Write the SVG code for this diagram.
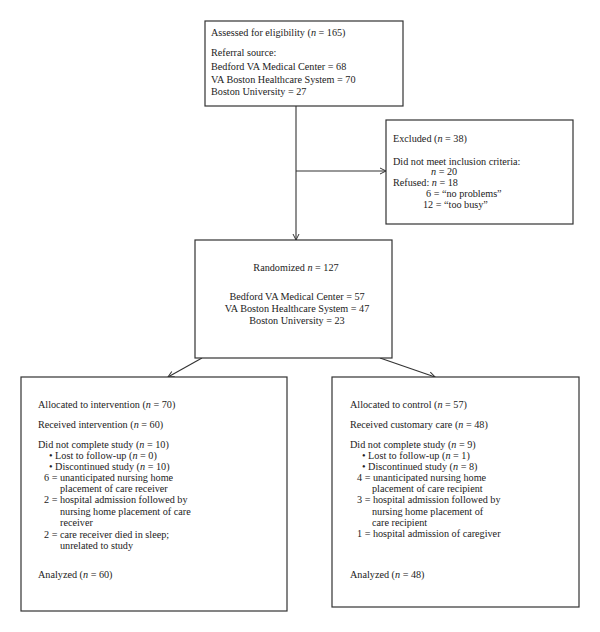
<svg xmlns="http://www.w3.org/2000/svg" width="600" height="632" viewBox="0 0 600 632">
<defs>
<style>
.box{fill:#fff;stroke:#333;stroke-width:1.2}
.t{font-family:"Liberation Serif","Times New Roman",serif;font-size:10.2px;fill:#222}
.c{text-anchor:middle}
.i{font-style:italic}
.ln{fill:none;stroke:#333;stroke-width:1.1}
</style>
<marker id="ah" markerWidth="8" markerHeight="8" refX="7" refY="4" orient="auto" markerUnits="userSpaceOnUse">
<path d="M1,1 L7,4 L1,7" fill="none" stroke="#333" stroke-width="1"/>
</marker>
</defs>
<rect width="600" height="632" fill="#fff"/>
<g id="connectors">
<path class="ln" d="M296,106 V240" marker-end="url(#ah)"/>
<path class="ln" d="M296,171 H386" marker-end="url(#ah)"/>
<path class="ln" d="M202,358 L168,377" marker-end="url(#ah)"/>
<path class="ln" d="M380,358 L435,377" marker-end="url(#ah)"/>
</g>
<g id="assessed">
<rect class="box" x="205" y="21" width="198" height="85"/>
<text class="t" x="211" y="35.5">Assessed for eligibility (<tspan class="i">n</tspan> = 165)</text>
<text class="t" x="211" y="55.5">Referral source:</text>
<text class="t" x="211" y="69.5">Bedford VA Medical Center = 68</text>
<text class="t" x="211" y="83">VA Boston Healthcare System = 70</text>
<text class="t" x="211" y="94.5">Boston University = 27</text>
</g>
<g id="excluded">
<rect class="box" x="386" y="120" width="187" height="104"/>
<text class="t" x="393" y="141.5">Excluded (<tspan class="i">n</tspan> = 38)</text>
<text class="t" x="393" y="165">Did not meet inclusion criteria:</text>
<text class="t" x="431" y="174.5"><tspan class="i">n</tspan> = 20</text>
<text class="t" x="393" y="185.5">Refused: <tspan class="i">n</tspan> = 18</text>
<text class="t" x="426" y="196.5">6 = “no problems”</text>
<text class="t" x="423" y="207.5">12 = “too busy”</text>
</g>
<g id="randomized">
<rect class="box" x="195" y="240" width="197" height="118"/>
<text class="t c" x="296" y="270.5">Randomized <tspan class="i">n</tspan> = 127</text>
<text class="t c" x="297" y="299.5">Bedford VA Medical Center = 57</text>
<text class="t c" x="297" y="311.5">VA Boston Healthcare System = 47</text>
<text class="t c" x="297" y="324">Boston University = 23</text>
</g>
<g id="intervention">
<rect class="box" x="21" y="377" width="266" height="234"/>
<text class="t" x="38" y="407.5">Allocated to intervention (<tspan class="i">n</tspan> = 70)</text>
<text class="t" x="38" y="427.5">Received intervention (<tspan class="i">n</tspan> = 60)</text>
<text class="t" x="38" y="447.5">Did not complete study (<tspan class="i">n</tspan> = 10)</text>
<text class="t" x="49" y="458.5">• Lost to follow-up (<tspan class="i">n</tspan> = 0)</text>
<text class="t" x="49" y="469.5">• Discontinued study (<tspan class="i">n</tspan> = 10)</text>
<text class="t" x="44" y="480.5">6 = unanticipated nursing home</text>
<text class="t" x="60" y="491.5">placement of care receiver</text>
<text class="t" x="44" y="503">2 = hospital admission followed by</text>
<text class="t" x="60" y="514.5">nursing home placement of care</text>
<text class="t" x="60" y="525.5">receiver</text>
<text class="t" x="44" y="537.5">2 = care receiver died in sleep;</text>
<text class="t" x="60" y="549">unrelated to study</text>
<text class="t" x="38" y="578">Analyzed (<tspan class="i">n</tspan> = 60)</text>
</g>
<g id="control">
<rect class="box" x="332" y="377" width="247" height="230"/>
<text class="t" x="350" y="407.5">Allocated to control (<tspan class="i">n</tspan> = 57)</text>
<text class="t" x="350" y="427.5">Received customary care (<tspan class="i">n</tspan> = 48)</text>
<text class="t" x="350" y="447.5">Did not complete study (<tspan class="i">n</tspan> = 9)</text>
<text class="t" x="362" y="458.5">• Lost to follow-up (<tspan class="i">n</tspan> = 1)</text>
<text class="t" x="362" y="469.5">• Discontinued study (<tspan class="i">n</tspan> = 8)</text>
<text class="t" x="357" y="480.5">4 = unanticipated nursing home</text>
<text class="t" x="372" y="491.5">placement of care recipient</text>
<text class="t" x="357" y="503">3 = hospital admission followed by</text>
<text class="t" x="372" y="514.5">nursing home placement of</text>
<text class="t" x="372" y="525.5">care recipient</text>
<text class="t" x="357" y="537">1 = hospital admission of caregiver</text>
<text class="t" x="350" y="578">Analyzed (<tspan class="i">n</tspan> = 48)</text>
</g>
</svg>
